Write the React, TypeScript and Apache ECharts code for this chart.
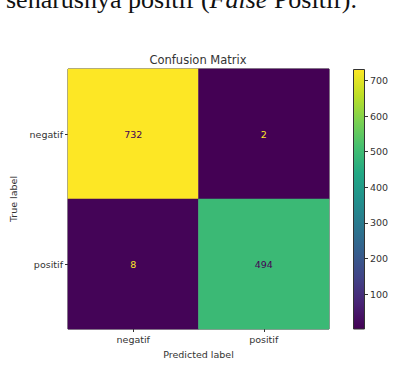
import React, { useEffect, useRef } from "react";
import * as echarts from "echarts";

const predictedLabels = ["negatif", "positif"];
const trueLabels = ["negatif", "positif"];
// rows: true label, columns: predicted label
const matrixValues = [
  [732, 2],
  [8, 494],
];
const colorbarTicks = [100, 200, 300, 400, 500, 600, 700];
const viridis = [
  "#440154", "#482475", "#414487", "#355f8d", "#2a788e",
  "#21918c", "#22a884", "#44bf70", "#7ad151", "#bddf26", "#fde725",
];

export default function App() {
  const ref = useRef<HTMLDivElement>(null);
  useEffect(() => {
    if (!ref.current) return;
    const chart = echarts.init(ref.current, undefined, { renderer: "svg" });
    const flat = matrixValues.flat();
    const vMin = Math.min(...flat);
    const vMax = Math.max(...flat);
    const mid = (vMin + vMax) / 2;
    const data: any[] = [];
    matrixValues.forEach((row, r) => {
      row.forEach((v, c) => {
        data.push({
          value: [c, r, v],
          label: { color: v < mid ? viridis[10] : viridis[0] },
        });
      });
    });
    const font = "DejaVu Sans";
    const gradient = new echarts.graphic.LinearGradient(
      0, 1, 0, 0,
      viridis.map((c, i) => ({ offset: i / (viridis.length - 1), color: c }))
    );
    chart.setOption({
      animation: false,
      backgroundColor: "#ffffff",
      textStyle: { fontFamily: font },
      title: {
        text: "Confusion Matrix",
        left: 198,
        top: 54,
        padding: 0,
        textAlign: "center",
        textStyle: { fontFamily: font, fontSize: 11.5, fontWeight: "normal", color: "#333" },
      },
      graphic: [
        {
          type: "text",
          left: 6,
          top: -14,
          style: {
            text: "{r|seharusnya positif (}{i|False}{r| Positif).}",
            rich: {
              r: { fontFamily: "Liberation Serif", fontSize: 26, fill: "#111" },
              i: { fontFamily: "Liberation Serif", fontSize: 26, fontStyle: "italic", fill: "#111" },
            },
          },
        },
      ],
      grid: [
        { left: 68, top: 69, width: 261, height: 260, show: true, borderColor: "#333", borderWidth: 1, containLabel: false },
        { left: 353, top: 69, width: 12, height: 260, containLabel: false },
      ],
      xAxis: [
        {
          type: "category",
          gridIndex: 0,
          data: predictedLabels,
          name: "Predicted label",
          nameLocation: "middle",
          nameGap: 20,
          nameTextStyle: { fontFamily: font, fontSize: 9.5, color: "#333" },
          axisLine: { show: false },
          axisTick: { show: true, alignWithLabel: true, length: 3, lineStyle: { color: "#333" } },
          axisLabel: { fontFamily: font, fontSize: 9.5, color: "#333", margin: 5 },
          splitLine: { show: false },
        },
        {
          type: "category",
          gridIndex: 1,
          data: ["bar"],
          show: false,
        },
      ],
      yAxis: [
        {
          type: "category",
          gridIndex: 0,
          data: trueLabels,
          inverse: true,
          name: "True label",
          nameLocation: "middle",
          nameGap: 46,
          nameRotate: 90,
          nameTextStyle: { fontFamily: font, fontSize: 9.5, color: "#333" },
          axisLine: { show: false },
          axisTick: { show: true, alignWithLabel: true, length: 3, lineStyle: { color: "#333" } },
          axisLabel: { fontFamily: font, fontSize: 9.5, color: "#333", margin: 5 },
          splitLine: { show: false },
        },
        {
          type: "value",
          gridIndex: 1,
          min: vMin,
          max: vMax,
          position: "right",
          axisLine: { show: false },
          axisTick: { show: true, length: 3, customValues: colorbarTicks, lineStyle: { color: "#333" } },
          axisLabel: { fontFamily: font, fontSize: 9.5, color: "#333", margin: 5, customValues: colorbarTicks },
          splitLine: { show: false },
        },
      ],
      visualMap: {
        show: false,
        type: "continuous",
        min: vMin,
        max: vMax,
        dimension: 2,
        seriesIndex: 0,
        inRange: { color: viridis },
      },
      series: [
        {
          type: "heatmap",
          xAxisIndex: 0,
          yAxisIndex: 0,
          data,
          label: { show: true, fontFamily: font, fontSize: 9.5 },
          itemStyle: { borderWidth: 0 },
          emphasis: { disabled: true },
        },
        {
          type: "bar",
          xAxisIndex: 1,
          yAxisIndex: 1,
          data: [vMax],
          barWidth: "100%",
          itemStyle: { color: gradient, borderColor: "#333", borderWidth: 1 },
          silent: true,
        },
      ],
    });
    return () => chart.dispose();
  }, []);
  return <div ref={ref} style={{ width: 404, height: 367, position: "absolute", left: 0, top: 0 }} />;
}
